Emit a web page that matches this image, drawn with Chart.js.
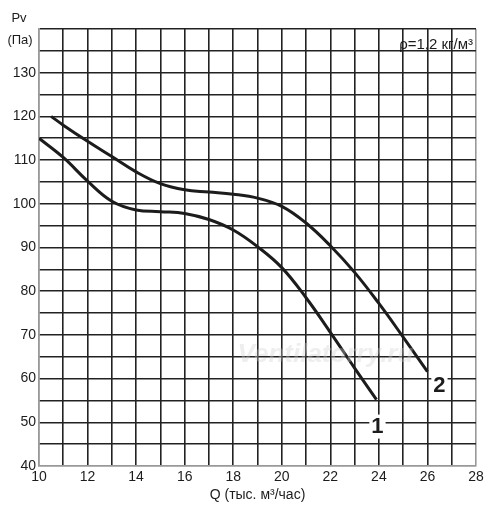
<!DOCTYPE html>
<html><head><meta charset="utf-8">
<script src="https://cdn.jsdelivr.net/npm/chart.js@4/dist/chart.umd.min.js"></script>
<style>html,body{margin:0;padding:0;background:#fff}#w{width:500px;height:518px}</style>
</head><body><div id="w"><canvas id="c" width="500" height="518"></canvas></div>
<script>
const q1 = [10, 11, 12, 13, 14, 15, 16, 17, 18, 19, 20, 21, 22, 23, 23.9];
const p1 = [115, 110.6, 105.2, 100.6, 98.6, 98.2, 97.8, 96.4, 94.0, 90.2, 85.4, 78.5, 70.6, 62.4, 55.2];
const q2 = [10.5, 11, 12, 13, 14, 15, 16, 17, 18, 19, 20, 21, 22, 23, 24, 25, 26];
const p2 = [120, 118, 114.3, 110.8, 107.3, 104.6, 103.2, 102.7, 102.2, 101.3, 99.4, 95.6, 90.4, 84.3, 77.2, 69.5, 61.6];
const curveNames = ['1', '2'];
const xTicks = [10, 12, 14, 16, 18, 20, 22, 24, 26, 28];
const yTicks = [40, 50, 60, 70, 80, 90, 100, 110, 120, 130];
const densityText = 'ρ=1,2 кг/м³';
const xTitle = 'Q (тыс. м³/час)';
const yTitle = ['Pv', '(Па)'];
const watermark = 'Ventilatorry.ru';

const toPts = (xs, ys) => xs.map((x, i) => ({x, y: ys[i]}));
const FONT = '"Liberation Sans", Arial, sans-serif';
const INK = '#1c1c1c';

const overlay = {
  id: 'overlay',
  afterDatasetsDraw(chart) {
    const {ctx, scales: {x, y}, chartArea: a} = chart;
    ctx.save();
    // watermark
    ctx.font = 'italic bold 26px ' + FONT;
    ctx.fillStyle = 'rgba(205,205,205,0.35)';
    ctx.textAlign = 'center'; ctx.textBaseline = 'middle';
    ctx.fillText(watermark, x.getPixelForValue(21.8), y.getPixelForValue(65.5));
    // curve labels
    ctx.font = 'bold 22px ' + FONT;
    const e1 = {x: q1[q1.length - 1], y: p1[p1.length - 1]};
    const e2 = {x: q2[q2.length - 1], y: p2[p2.length - 1]};
    const lbl = (t, px, py) => {
      const w = ctx.measureText(t).width;
      ctx.fillStyle = '#fff';
      ctx.fillRect(px - w / 2 - 2, py - 12, w + 4, 24);
      ctx.fillStyle = INK;
      ctx.fillText(t, px, py);
    };
    lbl(curveNames[0], x.getPixelForValue(e1.x) + 1, y.getPixelForValue(e1.y) + 27);
    lbl(curveNames[1], x.getPixelForValue(e2.x) + 12, y.getPixelForValue(e2.y) + 14);
    // density note
    ctx.font = '15px ' + FONT;
    ctx.textAlign = 'right';
    ctx.fillStyle = INK;
    ctx.fillText(densityText, a.right - 3, a.top + 16);
    ctx.restore();
  },
  afterDraw(chart) {
    const {ctx} = chart;
    ctx.save();
    ctx.fillStyle = INK;
    ctx.font = '13px ' + FONT;
    ctx.textAlign = 'center'; ctx.textBaseline = 'middle';
    ctx.fillText(yTitle[0], 19, 18);
    ctx.fillText(yTitle[1], 20, 40);
    ctx.restore();
  }
};

new Chart(document.getElementById('c'), {
  type: 'scatter',
  data: {
    datasets: [
      {label: curveNames[0], data: toPts(q1, p1), showLine: true, borderColor: INK, borderWidth: 3, pointRadius: 0, tension: 0.4, fill: false},
      {label: curveNames[1], data: toPts(q2, p2), showLine: true, borderColor: INK, borderWidth: 3, pointRadius: 0, tension: 0.4, fill: false}
    ]
  },
  options: {
    responsive: false,
    animation: false,
    devicePixelRatio: 1,
    layout: {padding: {top: 29, right: 24, left: 0, bottom: 0}},
    plugins: {legend: {display: false}, tooltip: {enabled: false}},
    scales: {
      x: {
        type: 'linear', min: 10, max: 28,
        afterFit(s) { s.height = 52; },
        ticks: {stepSize: 1, autoSkip: false, maxRotation: 0, padding: 3, color: INK,
          font: {family: FONT, size: 14},
          callback: v => xTicks.includes(v) ? String(v) : ''},
        grid: {color: ctx => (ctx.tick && (ctx.tick.value === 10 || ctx.tick.value === 28)) ? '#999' : '#222', lineWidth: 1.6, drawTicks: false},
        border: {display: true, color: '#999', width: 1.6},
        title: {display: true, text: xTitle, color: INK, font: {family: FONT, size: 14}, padding: {top: 2, bottom: 14}}
      },
      y: {
        min: 40, max: 140,
        afterFit(s) { s.width = 39; },
        ticks: {stepSize: 5, autoSkip: false, padding: 3, color: INK,
          font: {family: FONT, size: 14},
          callback: v => yTicks.includes(v) ? String(v) : ''},
        grid: {color: ctx => (ctx.tick && ctx.tick.value === 40) ? '#999' : '#222', lineWidth: 1.6, drawTicks: false},
        border: {display: true, color: '#999', width: 1.6}
      }
    }
  },
  plugins: [overlay]
});
</script>
</body></html>
